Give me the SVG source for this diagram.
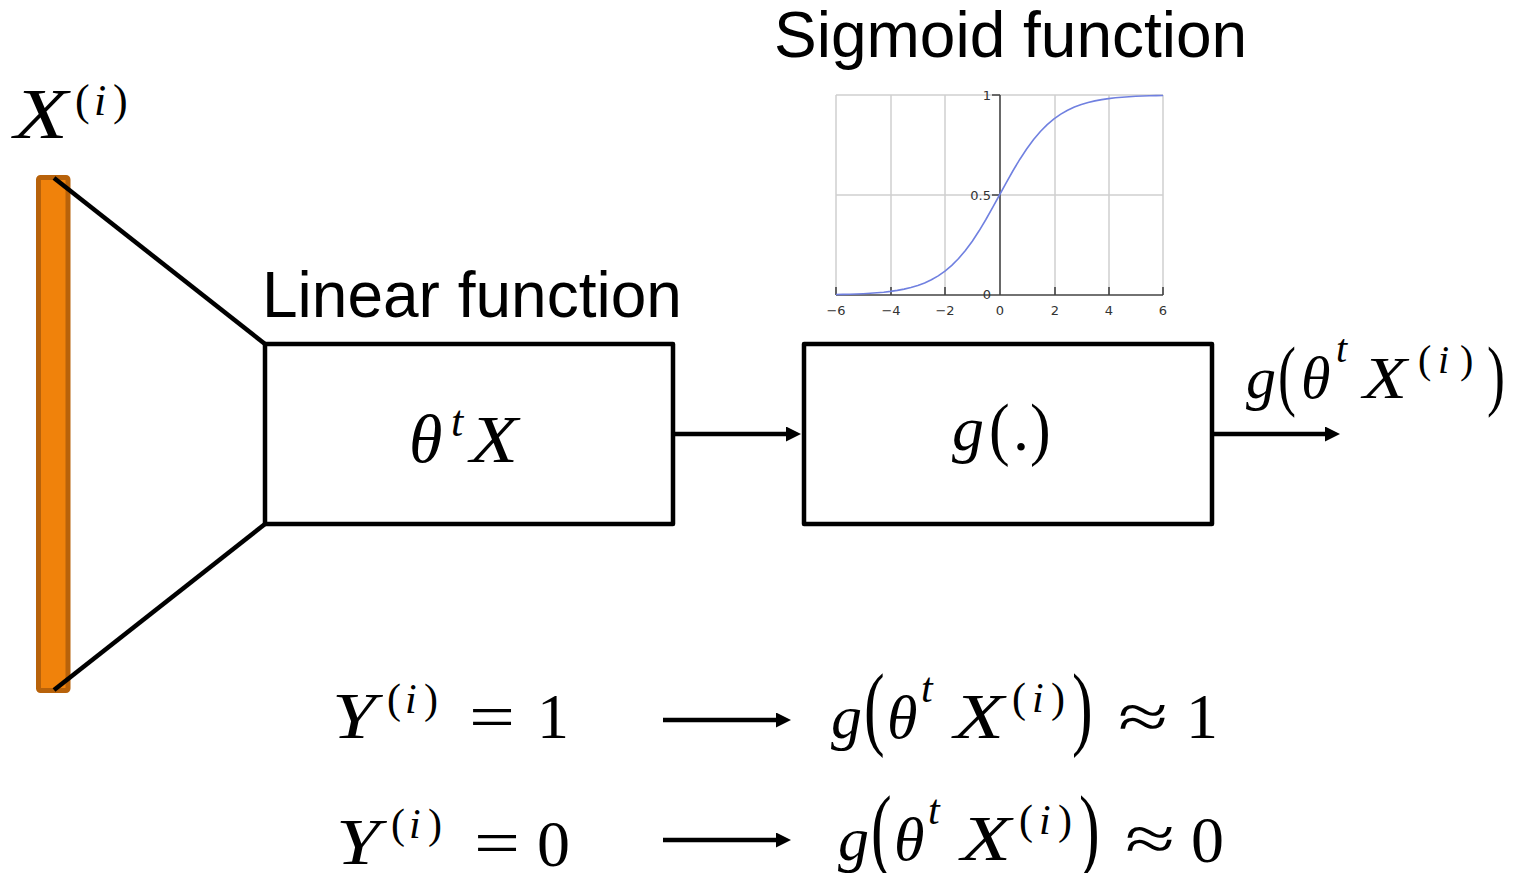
<svg xmlns="http://www.w3.org/2000/svg" width="1516" height="873" viewBox="0 0 1516 873">
<style>
.sans{font-family:"Liberation Sans",Arial,sans-serif;fill:#000}
.mi{font-family:"Liberation Serif","Times New Roman",serif;font-style:italic;fill:#000}
.mr{font-family:"Liberation Serif","Times New Roman",serif;fill:#000}
.box{fill:#fff;stroke:#000;stroke-width:4.5;stroke-linejoin:round}
.wire{stroke:#000;stroke-width:4.5;fill:none}
.grid{stroke:#d0d0d0;stroke-width:1.5;fill:none}
.axis{stroke:#444;stroke-width:1.6;fill:none}
.tick{font-family:"DejaVu Sans",sans-serif;font-size:13px;fill:#333}
</style>
<defs>
<marker id="ah" viewBox="0 0 15 15" refX="3" refY="7.5" markerWidth="15" markerHeight="15" markerUnits="userSpaceOnUse" orient="auto">
<path d="M0,0 L15,7.5 L0,15 z" fill="#000"/>
</marker>
</defs>

<g id="input-bar">
<rect x="38.5" y="177.5" width="29.5" height="513" rx="2" fill="#f0820b" stroke="#b8620a" stroke-width="5"/>
<text class="mi" x="14" y="138" font-size="72" textLength="54" lengthAdjust="spacingAndGlyphs">X</text>
<text class="mr" x="75" y="115" font-size="44">(</text>
<text class="mi" x="94" y="115" font-size="44">i</text>
<text class="mr" x="113" y="115" font-size="44">)</text>
</g>

<g id="connectors">
<line class="wire" x1="54" y1="178" x2="265" y2="344"/>
<line class="wire" x1="54" y1="690" x2="265" y2="524"/>
<line class="wire" x1="673" y1="434" x2="789" y2="434" marker-end="url(#ah)"/>
<line class="wire" x1="1212" y1="434" x2="1328" y2="434" marker-end="url(#ah)"/>
<line class="wire" x1="663" y1="720" x2="779" y2="720" stroke-width="5" marker-end="url(#ah)"/>
<line class="wire" x1="663" y1="840" x2="779" y2="840" stroke-width="5" marker-end="url(#ah)"/>
</g>

<g id="linear-box">
<rect class="box" x="265" y="344" width="408" height="180"/>
<text class="sans" x="262" y="317" font-size="64">Linear function</text>
<text class="mi" x="409" y="462" font-size="68">θ</text>
<text class="mi" x="451" y="436" font-size="44">t</text>
<text class="mi" x="470" y="462" font-size="68" textLength="48" lengthAdjust="spacingAndGlyphs">X</text>
</g>

<g id="sigmoid-box">
<rect class="box" x="804" y="344" width="408" height="180"/>
<text class="mi" x="952" y="450" font-size="64">g</text>
<text class="mr" transform="translate(989,452) scale(1,1.13)" x="0" y="0" font-size="62">(</text>
<text class="mr" x="1013" y="450" font-size="64">.</text>
<text class="mr" transform="translate(1030,452) scale(1,1.13)" x="0" y="0" font-size="62">)</text>
</g>

<g id="sigmoid-plot">
<text class="sans" x="774" y="57" font-size="64">Sigmoid function</text>
<path class="grid" d="M836,95V295M891,95V295M945,95V295M1055,95V295M1109,95V295M1163,95V295M836,95H1163M836,195H1163"/>
<path class="axis" d="M836,295H1163M1000,95V295M836,287V295M891,287V295M945,287V295M1055,287V295M1109,287V295M1163,287V295M992,95H1000M992,195H1000M992,295H1000"/>
<polyline fill="none" stroke="#7080e0" stroke-width="1.6" stroke-linejoin="round" points="836,294.5 842.8,294.4 849.6,294.2 856.4,294 863.3,293.7 870.1,293.3 876.9,292.8 883.7,292.2 890.5,291.4 897.3,290.4 904.1,289.1 910.9,287.5 917.8,285.5 924.6,283 931.4,279.8 938.2,275.9 945,271.2 951.8,265.4 958.6,258.5 965.4,250.5 972.3,241.2 979.1,230.8 985.9,219.5 992.7,207.4 999.5,195 1006.3,182.6 1013.1,170.5 1019.9,159.2 1026.8,148.8 1033.6,139.5 1040.4,131.5 1047.2,124.6 1054,118.8 1060.8,114.1 1067.6,110.2 1074.4,107 1081.3,104.5 1088.1,102.5 1094.9,100.9 1101.7,99.6 1108.5,98.6 1115.3,97.8 1122.1,97.2 1128.9,96.7 1135.8,96.3 1142.6,96 1149.4,95.8 1156.2,95.6 1163,95.5"/>
<text class="tick" x="991" y="100" text-anchor="end">1</text>
<text class="tick" x="991" y="200" text-anchor="end">0.5</text>
<text class="tick" x="991" y="299" text-anchor="end">0</text>
<text class="tick" x="836" y="315" text-anchor="middle">−6</text>
<text class="tick" x="891" y="315" text-anchor="middle">−4</text>
<text class="tick" x="945" y="315" text-anchor="middle">−2</text>
<text class="tick" x="1000" y="315" text-anchor="middle">0</text>
<text class="tick" x="1055" y="315" text-anchor="middle">2</text>
<text class="tick" x="1109" y="315" text-anchor="middle">4</text>
<text class="tick" x="1163" y="315" text-anchor="middle">6</text>
</g>

<g id="output-label">
<text class="mi" x="1246" y="398" font-size="60">g</text>
<text class="mr" transform="translate(1278,401) scale(1,1.45)" x="0" y="0" font-size="54">(</text>
<text class="mi" x="1301" y="398" font-size="60">θ</text>
<text class="mi" x="1336" y="362" font-size="40">t</text>
<text class="mi" x="1363" y="398" font-size="60" textLength="44" lengthAdjust="spacingAndGlyphs">X</text>
<text class="mr" x="1418" y="373" font-size="40">(</text>
<text class="mi" x="1438" y="373" font-size="40">i</text>
<text class="mr" x="1460" y="373" font-size="40">)</text>
<text class="mr" transform="translate(1487,401) scale(1,1.45)" x="0" y="0" font-size="54">)</text>
</g>

<g id="rule-y1">
<text class="mi" x="332" y="738" font-size="66" textLength="44" lengthAdjust="spacingAndGlyphs">Y</text>
<text class="mr" x="387" y="713" font-size="42">(</text>
<text class="mi" x="405" y="713" font-size="42">i</text>
<text class="mr" x="424" y="713" font-size="42">)</text>
<text class="mr" x="469" y="738" font-size="64" textLength="46" lengthAdjust="spacingAndGlyphs">=</text>
<text class="mr" x="537" y="738" font-size="64">1</text>
<text class="mi" x="831" y="738" font-size="62">g</text>
<text class="mr" transform="translate(864,738) scale(1,1.5)" x="0" y="0" font-size="62">(</text>
<text class="mi" x="887" y="738" font-size="62">θ</text>
<text class="mi" x="921" y="702" font-size="42">t</text>
<text class="mi" x="954" y="738" font-size="64" textLength="50" lengthAdjust="spacingAndGlyphs">X</text>
<text class="mr" x="1012" y="712" font-size="42">(</text>
<text class="mi" x="1032" y="712" font-size="42">i</text>
<text class="mr" x="1051" y="712" font-size="42">)</text>
<text class="mr" transform="translate(1072,738) scale(1,1.5)" x="0" y="0" font-size="62">)</text>
<text class="mr" x="1118" y="738" font-size="64" textLength="50" lengthAdjust="spacingAndGlyphs">≈</text>
<text class="mr" x="1186" y="738" font-size="64">1</text>
</g>

<g id="rule-y0">
<text class="mi" x="336" y="864" font-size="66" textLength="44" lengthAdjust="spacingAndGlyphs">Y</text>
<text class="mr" x="391" y="838" font-size="42">(</text>
<text class="mi" x="409" y="838" font-size="42">i</text>
<text class="mr" x="428" y="838" font-size="42">)</text>
<text class="mr" x="474" y="864" font-size="64" textLength="46" lengthAdjust="spacingAndGlyphs">=</text>
<text class="mr" x="537" y="866" font-size="66">0</text>
<text class="mi" x="838" y="860" font-size="62">g</text>
<text class="mr" transform="translate(871,860) scale(1,1.5)" x="0" y="0" font-size="62">(</text>
<text class="mi" x="894" y="860" font-size="62">θ</text>
<text class="mi" x="928" y="824" font-size="42">t</text>
<text class="mi" x="961" y="860" font-size="64" textLength="50" lengthAdjust="spacingAndGlyphs">X</text>
<text class="mr" x="1019" y="834" font-size="42">(</text>
<text class="mi" x="1039" y="834" font-size="42">i</text>
<text class="mr" x="1058" y="834" font-size="42">)</text>
<text class="mr" transform="translate(1079,860) scale(1,1.5)" x="0" y="0" font-size="62">)</text>
<text class="mr" x="1125" y="860" font-size="64" textLength="50" lengthAdjust="spacingAndGlyphs">≈</text>
<text class="mr" x="1191" y="862" font-size="66">0</text>
</g>
</svg>
